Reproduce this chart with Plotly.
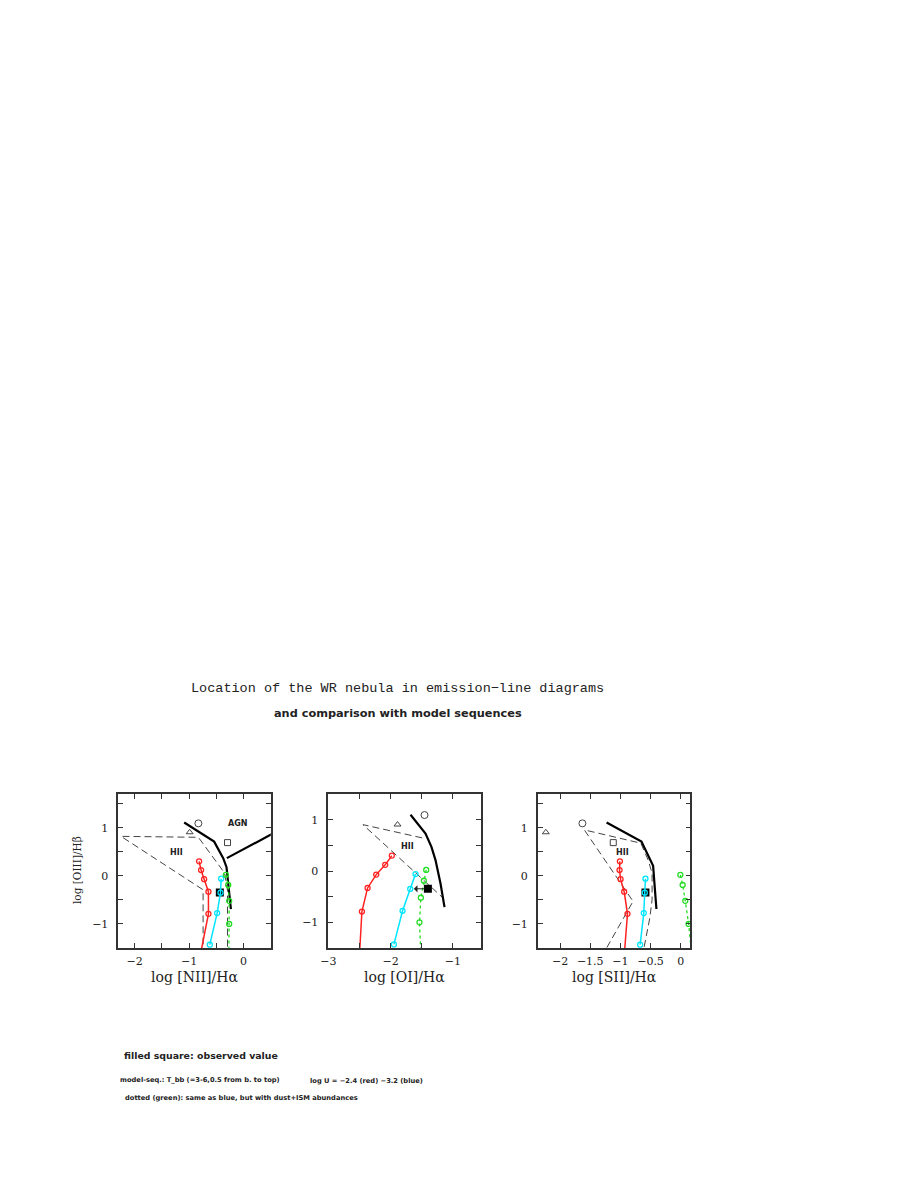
import plotly.graph_objects as go

# page body has an 8px margin -> figure is drawn 8px in from the window edge
OFF = 8
FW, FH = 915 - 2 * OFF, 1185 - 2 * OFF


def fx(px):
    return (px - OFF) / FW


def fy(py):
    return 1 - (py - OFF) / FH


# ---------------- data ----------------
# model sequences (T_bb from bottom to top); y = log [OIII]/Hbeta
red_y = [0.30, 0.12, -0.07, -0.33, -0.79, -1.70]
red_nii = [-0.816, -0.780, -0.724, -0.645, -0.645, -0.803]
red_oi = [-1.979, -2.086, -2.230, -2.369, -2.460, -2.502]
red_sii = [-1.008, -1.014, -0.997, -0.937, -0.882, -0.939]

cyan_y = [-0.06, -0.35, -0.775, -1.43]
cyan_nii = [-0.411, -0.424, -0.485, -0.620]
cyan_oi = [-1.599, -1.684, -1.807, -1.946]
cyan_sii = [-0.584, -0.595, -0.612, -0.672]

green_y = [0.02, -0.19, -0.52, -1.00, -1.70]
green_nii = [-0.325, -0.282, -0.264, -0.264, -0.270]
green_oi = [-1.427, -1.465, -1.513, -1.535, -1.510]
green_sii = [-0.005, 0.033, 0.077, 0.132, 0.190]

# observed WR nebula
obs_y = [-0.347]
obs_nii = [-0.436]
obs_oi = [-1.40]          # upper limit
obs_oi_limit_to = -1.625
obs_sii = [-0.584]

# comparison objects (open symbols)
circ_y, tri_y, sq_y = [1.09], [0.905], [0.69]
circ_nii, tri_nii, sq_nii = [-0.83], [-0.99], [-0.295]
circ_oi, tri_oi = [-1.454], [-1.888]
circ_sii, tri_sii, sq_sii = [-1.63], [-2.237], [-1.118]

# black separation lines
sep_nii_x = [-1.09, -0.54, -0.374, -0.313, -0.233]
sep_nii_y = [1.107, 0.71, 0.367, 0.18, -0.69]
agn_nii_x = [-0.307, 0.60]
agn_nii_y = [0.367, 0.915]
sep_oi_x = [-1.679, -1.518, -1.438, -1.343, -1.278, -1.198, -1.133]
sep_oi_y = [1.096, 0.857, 0.729, 0.471, 0.213, -0.238, -0.703]
sep_sii_x = [-1.229, -0.65, -0.457, -0.402]
sep_sii_y = [1.107, 0.712, 0.207, -0.69]

# dashed HII-region boundaries
hii_nii_x = [-0.295, -0.295, -0.35, -0.83, -2.25, -0.743, -0.743]
hii_nii_y = [-1.70, -0.30, 0.06, 0.80, 0.82, -0.29, -1.70]
hii_oi_x = [-1.492, -2.444, -1.171]
hii_oi_y = [0.645, 0.903, -0.509]
hii_sii_x = [-0.64, -0.595, -0.512, -0.474, -0.474, -0.54, -0.661, -1.598, -0.79, -1.319]
hii_sii_y = [-1.70, -1.397, -0.878, -0.50, 0.055, 0.33, 0.678, 0.954, -0.53, -1.70]

# axes
xranges = [[-2.3, 0.5], [-3.0, -0.55], [-2.37, 0.16]]
yranges = [[-1.5, 1.7], [-1.5, 1.5], [-1.5, 1.7]]
xtickvals = [[-2, -1.5, -1, -0.5, 0, 0.5], [-3, -2.5, -2, -1.5, -1], [-2, -1.5, -1, -0.5, 0]]
xticktext = [["−2", "", "−1", "", "0", ""], ["−3", "", "−2", "", "−1"], ["−2", "−1.5", "−1", "−0.5", "0"]]
ytickvals = [-1.5, -1, -0.5, 0, 0.5, 1, 1.5]
yticktext = ["", "−1", "", "0", "", "1", ""]
xtitles = ["log [NII]/Hα", "log [OI]/Hα", "log [SII]/Hα"]

# ---------------- figure ----------------
RED, CYAN, GREEN = "#ff2020", "#00e5ff", "#22dd22"
GRAY = "#444444"

fig = go.Figure()

panels = [
    dict(red=red_nii, cyan=cyan_nii, green=green_nii, obs=obs_nii,
         sep=(sep_nii_x, sep_nii_y), hii=(hii_nii_x, hii_nii_y)),
    dict(red=red_oi, cyan=cyan_oi, green=green_oi, obs=obs_oi,
         sep=(sep_oi_x, sep_oi_y), hii=(hii_oi_x, hii_oi_y)),
    dict(red=red_sii, cyan=cyan_sii, green=green_sii, obs=obs_sii,
         sep=(sep_sii_x, sep_sii_y), hii=(hii_sii_x, hii_sii_y)),
]


def axn(i):
    return ("x", "y") if i == 0 else (f"x{i+1}", f"y{i+1}")


for i, p in enumerate(panels):
    xa, ya = axn(i)
    kw = dict(xaxis=xa, yaxis=ya, showlegend=False, hoverinfo="skip")
    fig.add_trace(go.Scatter(x=p["hii"][0], y=p["hii"][1], mode="lines",
                             line=dict(color=GRAY, width=1, dash="7px,4px"), **kw))
    fig.add_trace(go.Scatter(x=p["sep"][0], y=p["sep"][1], mode="lines",
                             line=dict(color="black", width=2.2), **kw))
    if i == 0:
        fig.add_trace(go.Scatter(x=agn_nii_x, y=agn_nii_y, mode="lines",
                                 line=dict(color="black", width=2.2), **kw))
    fig.add_trace(go.Scatter(x=p["obs"], y=obs_y, mode="markers",
                             marker=dict(symbol="square", size=8, color="black"), **kw))
    fig.add_trace(go.Scatter(x=p["red"], y=red_y, mode="lines+markers",
                             line=dict(color=RED, width=1.5),
                             marker=dict(symbol="circle-open", size=5, color=RED,
                                         line=dict(width=1.3)), **kw))
    fig.add_trace(go.Scatter(x=p["cyan"], y=cyan_y, mode="lines+markers",
                             line=dict(color=CYAN, width=1.5),
                             marker=dict(symbol="circle-open", size=5, color=CYAN,
                                         line=dict(width=1.3)), **kw))
    fig.add_trace(go.Scatter(x=p["green"], y=green_y, mode="lines+markers",
                             line=dict(color=GREEN, width=1.3, dash="dot"),
                             marker=dict(symbol="circle-open", size=5, color=GREEN,
                                         line=dict(width=1.3)), **kw))


def sym(x, y, s, size, ax):
    xa, ya = axn(ax)
    fig.add_trace(go.Scatter(x=x, y=y, mode="markers", xaxis=xa, yaxis=ya,
                             showlegend=False, hoverinfo="skip",
                             marker=dict(symbol=s, size=size, color=GRAY,
                                         line=dict(width=1))))


sym(circ_nii, circ_y, "circle-open", 7, 0)
sym(tri_nii, tri_y, "triangle-up-open", 6, 0)
sym(sq_nii, sq_y, "square-open", 6, 0)
sym(circ_oi, circ_y, "circle-open", 7, 1)
sym(tri_oi, tri_y, "triangle-up-open", 6, 1)
sym(circ_sii, circ_y, "circle-open", 7, 2)
sym(tri_sii, tri_y, "triangle-up-open", 6, 2)
sym(sq_sii, sq_y, "square-open", 6, 2)

# upper-limit arrow for [OI]
fig.add_annotation(x=obs_oi_limit_to, y=obs_y[0], ax=obs_oi[0] - 0.03, ay=obs_y[0],
                   xref="x2", yref="y2", axref="x2", ayref="y2", text="",
                   showarrow=True, arrowhead=1, arrowsize=1.2, arrowwidth=1,
                   arrowcolor="#222222")

# region labels
lab_font = dict(family="DejaVu Sans", size=8, color="#222222")
for (lx, ly, ref, t) in [(-0.11, 1.09, 0, "AGN"), (-1.23, 0.49, 0, "HII"),
                         (-1.733, 0.47, 1, "HII"), (-0.97, 0.49, 2, "HII")]:
    xa, ya = axn(ref)
    fig.add_annotation(x=lx, y=ly, xref=xa, yref=ya, text=f"<b>{t}</b>",
                       showarrow=False, font=lab_font, xanchor="center", yanchor="middle")

# ---------------- axes layout ----------------
lefts = [118.3, 328.3, 537.8]
pw = 152.5
top, bot = 794.0, 948.0
tick_font = dict(family="DejaVu Serif", size=11, color="#222222")
for i in range(3):
    sfx = "" if i == 0 else str(i + 1)
    fig.layout["xaxis" + sfx] = dict(
        domain=[fx(lefts[i]), fx(lefts[i] + pw)], range=xranges[i],
        anchor="y" + sfx, showgrid=False, zeroline=False, automargin=False,
        showline=True, mirror="ticks", linecolor="#333333", linewidth=1.5,
        ticks="inside", ticklen=5, tickwidth=1, tickcolor="#333333",
        tickvals=xtickvals[i], ticktext=xticktext[i], tickfont=tick_font,
        ticklabelstandoff=2)
    fig.layout["yaxis" + sfx] = dict(
        domain=[fy(bot), fy(top)], range=yranges[i],
        anchor="x" + sfx, showgrid=False, zeroline=False, automargin=False,
        showline=True, mirror="ticks", linecolor="#333333", linewidth=1.5,
        ticks="inside", ticklen=5, tickwidth=1, tickcolor="#333333",
        tickvals=ytickvals, ticktext=yticktext, tickfont=tick_font,
        ticklabelstandoff=6)
    fig.add_annotation(x=fx(lefts[i] + pw / 2), y=fy(977), xref="paper", yref="paper",
                       xanchor="center", yanchor="middle",
                       text=xtitles[i], showarrow=False,
                       font=dict(family="DejaVu Serif", size=14, color="#222222"))

fig.add_annotation(x=fx(77), y=fy(870), xref="paper", yref="paper",
                   xanchor="center", yanchor="middle",
                   text="log [OIII]/Hβ", textangle=-90, showarrow=False,
                   font=dict(family="DejaVu Serif", size=10.5, color="#222222"))

# titles
fig.add_annotation(x=fx(397), y=fy(688), xref="paper", yref="paper",
                   xanchor="center", yanchor="middle",
                   text="Location of the WR nebula in emission−line diagrams",
                   showarrow=False,
                   font=dict(family="Liberation Mono", size=13.5, color="#222222"))
fig.add_annotation(x=fx(398), y=fy(713), xref="paper", yref="paper",
                   xanchor="center", yanchor="middle",
                   text="<b>and comparison with model sequences</b>", showarrow=False,
                   font=dict(family="DejaVu Sans", size=11.3, color="#222222"))

# notes at the bottom
notes = [
    (122, 1055, "<b>filled square: observed value</b>", 9.4),
    (118, 1080, "<b>model-seq.: T_bb (=3-6,0.5 from b. to top)</b>", 6.7),
    (308, 1081, "<b>log U = −2.4 (red) −3.2 (blue)</b>", 6.7),
    (123, 1098, "<b>dotted (green): same as blue, but with dust+ISM abundances</b>", 6.7),
]
for (nx, ny, t, s) in notes:
    fig.add_annotation(x=fx(nx), y=fy(ny), xref="paper", yref="paper",
                       xanchor="left", yanchor="middle", text=t, showarrow=False,
                       font=dict(family="DejaVu Sans", size=s, color="#222222"))

fig.update_layout(width=FW, height=FH, margin=dict(l=0, r=0, t=0, b=0),
                  paper_bgcolor="white", plot_bgcolor="white", showlegend=False)

fig.write_html("out.html")
